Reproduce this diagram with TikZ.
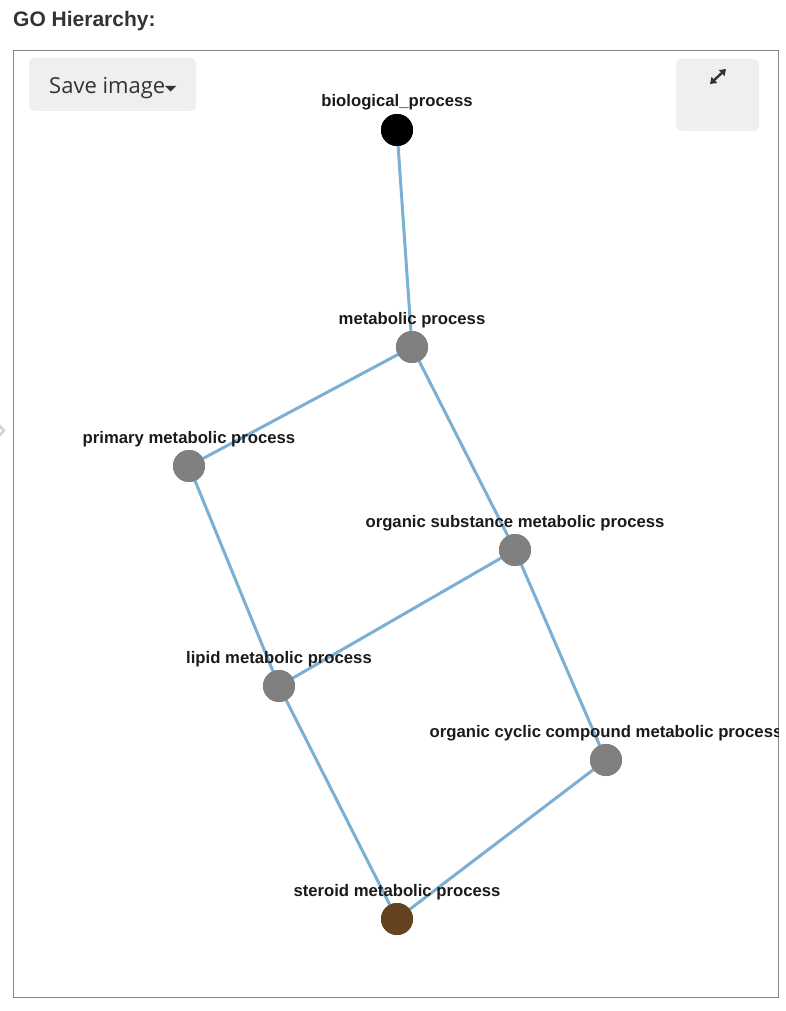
\documentclass[tikz,border=0pt]{standalone}
\usepackage{fontspec}
\setmainfont{Liberation Sans}
\newfontfamily\opensans{Open Sans}
\usetikzlibrary{arrows.meta}
\definecolor{edgeblue}{HTML}{7BAFD4}
\definecolor{nodegray}{HTML}{808080}
\definecolor{steroidbrown}{HTML}{654321}
\definecolor{btnfill}{HTML}{F0EFEE}
\definecolor{framegray}{HTML}{888888}
\definecolor{textdark}{HTML}{333333}
\definecolor{labeldark}{HTML}{1A1A1A}
\tikzset{
  x=1pt, y=-1pt,
  gonode/.style={circle, inner sep=0pt, minimum size=32pt, fill=nodegray},
  golabel/.style={font=\fontsize{16.7}{18}\selectfont\bfseries, text=labeldark, inner sep=0pt, anchor=base},
  goedge/.style={draw=edgeblue, line width=3pt},
  btn/.style={fill=btnfill, rounded corners=5pt, draw=none}
}
\begin{document}
\begin{tikzpicture}
\useasboundingbox (0,0) rectangle (786,1011);
% title
\node[anchor=base west, inner sep=0pt, text=textdark, font=\fontsize{21}{24}\selectfont\bfseries] (title) at (13,27) {GO Hierarchy:};
% frame
\draw[framegray, line width=1pt] (13.5,50.5) rectangle (778.5,997.5);
% left chevron
\draw[gray!35, line width=2.5pt] (-2,424) -- (4,430.5) -- (-2,437);
% buttons
\fill[btn] (29,58) rectangle (196,111);
\node[anchor=base west, inner sep=0pt, text=textdark, font=\opensans\fontsize{22}{26}\selectfont] (save) at (49,94) {Save image};
\fill[textdark] (165,86) -- (176,86) -- (170.5,91.5) -- cycle;
\fill[btn] (676,59) rectangle (759,131);
\coordinate (ea) at (710,84);
\coordinate (eb) at (726,69);
\draw[textdark, line width=2.4pt, {Triangle[length=6pt,width=8pt]}-{Triangle[length=6pt,width=8pt]}] (ea) -- (eb);
% graph
\begin{scope}
\clip (14,51) rectangle (778,997);
\node[gonode, fill=black] (bp) at (397,130) {};
\node[gonode] (mp) at (412,347) {};
\node[gonode] (pmp) at (189,466) {};
\node[gonode] (osmp) at (515,550) {};
\node[gonode] (lmp) at (279,686) {};
\node[gonode] (occmp) at (606,760) {};
\node[gonode, fill=steroidbrown] (smp) at (397,919) {};
\draw[goedge] (bp.center) -- (mp.center);
\draw[goedge] (mp.center) -- (pmp.center);
\draw[goedge] (mp.center) -- (osmp.center);
\draw[goedge] (pmp.center) -- (lmp.center);
\draw[goedge] (osmp.center) -- (lmp.center);
\draw[goedge] (osmp.center) -- (occmp.center);
\draw[goedge] (lmp.center) -- (smp.center);
\draw[goedge] (occmp.center) -- (smp.center);
\node[gonode, fill=black] at (bp) {};
\node[gonode] at (mp) {};
\node[gonode] at (pmp) {};
\node[gonode] at (osmp) {};
\node[gonode] at (lmp) {};
\node[gonode] at (occmp) {};
\node[gonode, fill=steroidbrown] at (smp) {};
\node[golabel] (bpl) at (397,107) {biological\_process};
\node[golabel] (mpl) at (412,324) {metabolic process};
\node[golabel] (pmpl) at (189,443) {primary metabolic process};
\node[golabel] (osmpl) at (515,527) {organic substance metabolic process};
\node[golabel] (lmpl) at (279,663) {lipid metabolic process};
\node[golabel] (occmpl) at (606,737) {organic cyclic compound metabolic process};
\node[golabel] (smpl) at (397,896) {steroid metabolic process};
\end{scope}
\end{tikzpicture}
\end{document}
